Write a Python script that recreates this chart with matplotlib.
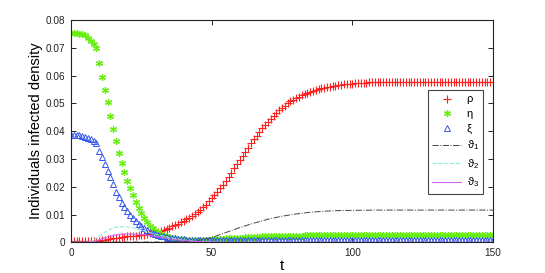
import matplotlib
matplotlib.use("Agg")
import matplotlib.pyplot as plt
import numpy as np

plt.rcParams['font.family'] = ['Liberation Sans', 'DejaVu Sans']
plt.rcParams['mathtext.fontset'] = 'custom'
plt.rcParams['mathtext.rm'] = 'Liberation Sans'

# time grid of the marker series (t = 0 .. 150)
t = list(range(0, 151))

rho = [
    0.0003, 0.0003, 0.0003, 0.0003, 0.0003, 0.0003, 0.0003, 0.0003, 0.0003, 0.0004,
    0.0006, 0.0007, 0.0009, 0.0011, 0.0013, 0.0014, 0.0016, 0.0017, 0.0018, 0.0019,
    0.0021, 0.0022, 0.0023, 0.0024, 0.0025, 0.0026, 0.0028, 0.0030, 0.0032, 0.0034,
    0.0036, 0.0038, 0.0041, 0.0044, 0.0048, 0.0052, 0.0057, 0.0062, 0.0067, 0.0073,
    0.0078, 0.0083, 0.0089, 0.0095, 0.0102, 0.0109, 0.0117, 0.0126, 0.0136, 0.0147,
    0.0158, 0.0170, 0.0182, 0.0195, 0.0208, 0.0222, 0.0236, 0.0251, 0.0266, 0.0281,
    0.0296, 0.0311, 0.0326, 0.0341, 0.0356, 0.0370, 0.0384, 0.0397, 0.0410, 0.0422,
    0.0434, 0.0445, 0.0456, 0.0466, 0.0475, 0.0484, 0.0492, 0.0500, 0.0507, 0.0513,
    0.0519, 0.0524, 0.0529, 0.0534, 0.0538, 0.0542, 0.0545, 0.0548, 0.0551, 0.0554,
    0.0556, 0.0558, 0.0560, 0.0562, 0.0564, 0.0565, 0.0567, 0.0568, 0.0569, 0.0570,
    0.0571, 0.0572, 0.0573, 0.0574, 0.0575, 0.0575, 0.0576, 0.0576, 0.0577, 0.0577,
    0.0577, 0.0577, 0.0577, 0.0578, 0.0578, 0.0578, 0.0578, 0.0578, 0.0578, 0.0578,
    0.0578, 0.0578, 0.0578, 0.0578, 0.0578, 0.0578, 0.0578, 0.0578, 0.0578, 0.0578,
    0.0578, 0.0578, 0.0578, 0.0578, 0.0578, 0.0578, 0.0578, 0.0578, 0.0578, 0.0578,
    0.0578, 0.0578, 0.0578, 0.0578, 0.0578, 0.0578, 0.0578, 0.0578, 0.0578, 0.0578,
    0.0578,
]

eta = [
    0.0755, 0.0754, 0.0753, 0.0751, 0.0750, 0.0745, 0.0737, 0.0724, 0.0712, 0.0698,
    0.0646, 0.0596, 0.0549, 0.0505, 0.0453, 0.0407, 0.0363, 0.0323, 0.0287, 0.0253,
    0.0222, 0.0194, 0.0169, 0.0146, 0.0125, 0.0106, 0.0088, 0.0072, 0.0060, 0.0050,
    0.0042, 0.0036, 0.0031, 0.0027, 0.0023, 0.0020, 0.0017, 0.0015, 0.0013, 0.0012,
    0.0011, 0.0010, 0.0009, 0.0009, 0.0009, 0.0009, 0.0009, 0.0009, 0.0010, 0.0010,
    0.0011, 0.0011, 0.0012, 0.0012, 0.0013, 0.0014, 0.0014, 0.0015, 0.0016, 0.0016,
    0.0017, 0.0017, 0.0018, 0.0018, 0.0019, 0.0019, 0.0020, 0.0020, 0.0021, 0.0021,
    0.0021, 0.0022, 0.0022, 0.0022, 0.0023, 0.0023, 0.0023, 0.0023, 0.0024, 0.0024,
    0.0024, 0.0024, 0.0024, 0.0025, 0.0025, 0.0025, 0.0025, 0.0025, 0.0025, 0.0025,
    0.0026, 0.0026, 0.0026, 0.0026, 0.0026, 0.0026, 0.0026, 0.0026, 0.0026, 0.0026,
    0.0026, 0.0026, 0.0026, 0.0026, 0.0026, 0.0027, 0.0027, 0.0027, 0.0027, 0.0027,
    0.0027, 0.0027, 0.0027, 0.0027, 0.0027, 0.0027, 0.0027, 0.0027, 0.0027, 0.0027,
    0.0027, 0.0027, 0.0027, 0.0027, 0.0027, 0.0027, 0.0027, 0.0027, 0.0027, 0.0027,
    0.0027, 0.0027, 0.0027, 0.0027, 0.0027, 0.0027, 0.0027, 0.0027, 0.0027, 0.0027,
    0.0027, 0.0027, 0.0027, 0.0027, 0.0027, 0.0027, 0.0027, 0.0027, 0.0027, 0.0027,
    0.0027,
]

xi = [
    0.0387, 0.0387, 0.0386, 0.0385, 0.0383, 0.0380, 0.0376, 0.0371, 0.0366, 0.0359,
    0.0330, 0.0306, 0.0282, 0.0258, 0.0234, 0.0210, 0.0182, 0.0162, 0.0143, 0.0126,
    0.0111, 0.0097, 0.0086, 0.0076, 0.0067, 0.0059, 0.0051, 0.0044, 0.0038, 0.0033,
    0.0029, 0.0026, 0.0023, 0.0021, 0.0019, 0.0017, 0.0015, 0.0014, 0.0013, 0.0012,
    0.0011, 0.0010, 0.0010, 0.0009, 0.0009, 0.0009, 0.0008, 0.0008, 0.0008, 0.0008,
    0.0008, 0.0008, 0.0008, 0.0008, 0.0008, 0.0008, 0.0008, 0.0008, 0.0008, 0.0008,
    0.0008, 0.0008, 0.0008, 0.0008, 0.0008, 0.0008, 0.0008, 0.0008, 0.0008, 0.0008,
    0.0008, 0.0008, 0.0008, 0.0008, 0.0008, 0.0008, 0.0008, 0.0008, 0.0008, 0.0008,
    0.0008, 0.0008, 0.0008, 0.0008, 0.0008, 0.0008, 0.0008, 0.0008, 0.0008, 0.0008,
    0.0008, 0.0008, 0.0008, 0.0008, 0.0008, 0.0008, 0.0008, 0.0008, 0.0008, 0.0008,
    0.0008, 0.0008, 0.0008, 0.0008, 0.0008, 0.0008, 0.0008, 0.0008, 0.0008, 0.0008,
    0.0008, 0.0008, 0.0008, 0.0008, 0.0008, 0.0008, 0.0008, 0.0008, 0.0008, 0.0008,
    0.0008, 0.0008, 0.0008, 0.0008, 0.0008, 0.0008, 0.0008, 0.0008, 0.0008, 0.0008,
    0.0008, 0.0008, 0.0008, 0.0008, 0.0008, 0.0008, 0.0008, 0.0008, 0.0008, 0.0008,
    0.0008, 0.0008, 0.0008, 0.0008, 0.0008, 0.0008, 0.0008, 0.0008, 0.0008, 0.0008,
    0.0008,
]

# time grid of the line series
tl = [0, 5, 7, 8, 9, 10, 12, 14, 16, 18, 20, 22, 24, 26, 28, 30, 32, 35, 38, 41,
      45, 50, 55, 60, 65, 70, 75, 80, 85, 90, 95, 100, 110, 120, 130, 140, 150]

theta1 = [0.0001, 0.0001, 0.0001, 0.0001, 0.0001, 0.0001, 0.0001, 0.0001, 0.0001, 0.0001,
          0.0001, 0.0001, 0.0001, 0.0001, 0.0001, 0.0001, 0.0001, 0.0002, 0.0002, 0.0003,
          0.0006, 0.0017, 0.0035, 0.0053, 0.0069, 0.0083, 0.0094, 0.0102, 0.0108, 0.0112,
          0.0114, 0.0115, 0.0116, 0.0116, 0.0116, 0.0116, 0.0116]

theta2 = [0.0, 0.0, 0.0002, 0.0007, 0.0014, 0.0022, 0.0036, 0.0047, 0.0054, 0.0056,
          0.0055, 0.0052, 0.0047, 0.0041, 0.0035, 0.0029, 0.0024, 0.0017, 0.0011, 0.0007,
          0.0003, 0.0001, 0.0, 0.0, 0.0, 0.0, 0.0, 0.0, 0.0, 0.0,
          0.0, 0.0, 0.0, 0.0, 0.0, 0.0, 0.0]

theta3 = [0.0, 0.0, 0.0001, 0.0002, 0.0005, 0.0009, 0.0016, 0.0022, 0.0026, 0.0029,
          0.0030, 0.0030, 0.0029, 0.0027, 0.0024, 0.0021, 0.0018, 0.0013, 0.0009, 0.0006,
          0.0003, 0.0001, 0.0, 0.0, 0.0, 0.0, 0.0, 0.0, 0.0, 0.0,
          0.0, 0.0, 0.0, 0.0, 0.0, 0.0, 0.0]

labels = ['ρ', 'η', 'ξ', 'ϑ$_1$', 'ϑ$_2$', 'ϑ$_3$']

fig = plt.figure(figsize=(5.45, 2.73), dpi=100)
ax = fig.add_axes([71 / 545, (273 - 242.3) / 273, 422 / 545, 222.3 / 273])

ax.plot(t, rho, linestyle='none', marker='+', color='#ff2020', markersize=5.5,
        markeredgewidth=0.8, label=labels[0])
ax.plot(t, eta, linestyle='none', marker=(6, 2, 0), color='#66ee11', markersize=5,
        markeredgewidth=0.9, label=labels[1])
ax.plot(t, xi, linestyle='none', marker='^', color='#3355ee', markersize=5,
        markerfacecolor='none', markeredgewidth=0.7, label=labels[2])
ax.plot(tl, theta1, linestyle='-.', color='#444444', linewidth=0.7, label=labels[3])
ax.plot(tl, theta2, linestyle='--', color='#88eedd', linewidth=0.8, label=labels[4])
ax.plot(tl, theta3, linestyle='-', color='#cc66ee', linewidth=0.8, label=labels[5])

ax.set_xlim(0, 150)
ax.set_ylim(0, 0.08)
ax.set_xticks([0, 50, 100, 150])
ax.set_yticks([0, 0.01, 0.02, 0.03, 0.04, 0.05, 0.06, 0.07, 0.08])
ax.set_yticklabels(['0', '0.01', '0.02', '0.03', '0.04', '0.05', '0.06', '0.07', '0.08'])
ax.tick_params(direction='in', top=True, right=True, length=3.5, width=0.7,
               labelsize=7.2, colors='#222222', pad=4)
for s in ax.spines.values():
    s.set_linewidth(0.8)
    s.set_color('#222222')

ax.set_xlabel('t', fontsize=11, labelpad=1)
ax.set_ylabel('Individuals infected density', fontsize=10.5, labelpad=2)

leg = ax.legend(loc='upper right', bbox_to_anchor=(0.977, 0.685), fontsize=8,
                fancybox=False, framealpha=1, edgecolor='#444444',
                handlelength=2.6, handletextpad=0.5, labelspacing=0.42,
                borderpad=0.4, borderaxespad=0)
leg.get_frame().set_linewidth(0.8)

fig.savefig('out.png', dpi=100)
